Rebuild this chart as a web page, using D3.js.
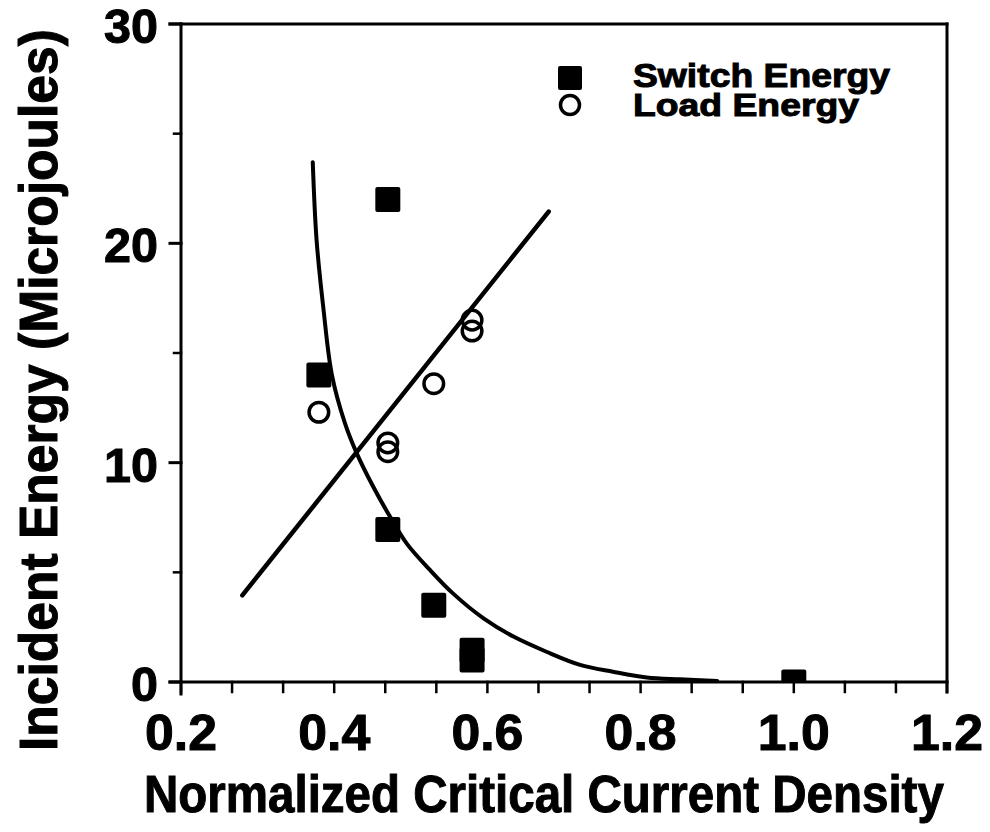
<!DOCTYPE html>
<html>
<head>
<meta charset="utf-8">
<script src="https://cdn.jsdelivr.net/npm/d3@7"></script>
<style>
  html, body { margin: 0; padding: 0; background: #fff; }
  svg { display: block; }
  text { font-family: "Liberation Sans", Arial, Helvetica, sans-serif; font-weight: bold; fill: #000; stroke: #000; stroke-width: 1; }
</style>
</head>
<body>
<svg id="chart" width="990" height="832"></svg>
<script>
// ---- data ----
const switchX = [0.38, 0.47, 0.47, 0.53, 0.58, 0.58, 1.0];
const switchY = [14.0, 22.0, 6.95, 3.5, 1.45, 1.0, 0.0];

const loadX = [0.38, 0.47, 0.47, 0.53, 0.58, 0.58];
const loadY = [12.3, 10.9, 10.5, 13.6, 16.5, 16.0];

// linear fit line through load energy (end points)
const fitLoadX = [0.28, 0.68];
const fitLoadY = [3.95, 21.45];

// decaying fit curve through switch energy
const fitSwitchX = [0.372, 0.377, 0.386, 0.397, 0.414, 0.429, 0.451, 0.473, 0.495, 0.525, 0.555, 0.595, 0.634, 0.677, 0.721, 0.764, 0.808, 0.851, 0.90];
const fitSwitchY = [23.7, 20.15, 17.0, 14.0, 11.8, 10.46, 8.9, 7.53, 6.3, 5.11, 4.04, 2.9, 2.07, 1.38, 0.78, 0.47, 0.21, 0.12, 0.05];

const xTicks = [0.2, 0.4, 0.6, 0.8, 1.0, 1.2];
const xTickLabels = ["0.2", "0.4", "0.6", "0.8", "1.0", "1.2"];
const yTicks = [0, 10, 20, 30];
const yTickLabels = ["0", "10", "20", "30"];

const seriesNames = ["Switch Energy", "Load Energy"];
const xTitle = "Normalized Critical Current Density";
const yTitle = "Incident Energy (Microjoules)";

// ---- layout ----
const svg = d3.select("#chart");
const x = d3.scaleLinear().domain([0.2, 1.2]).range([181, 947]);
const y = d3.scaleLinear().domain([0, 30]).range([682, 24]);

svg.append("defs").append("clipPath").attr("id", "plotclip")
  .append("rect").attr("x", x(0.2)).attr("y", y(30)).attr("width", x(1.2) - x(0.2)).attr("height", y(0) - y(30));

// place a text whose width is fitted horizontally by a scale transform
function fitText(parent, str, px, py, size, width, anchor, rotate) {
  const g = parent.append("g");
  const t = g.append("text").attr("font-size", size).text(str);
  const w = t.node().getComputedTextLength();
  const sx = width / w;
  let dx = 0;
  if (anchor === "middle") dx = -width / 2;
  else if (anchor === "end") dx = -width;
  g.attr("transform", `translate(${px},${py})` + (rotate ? ` rotate(${rotate})` : "") + ` translate(${dx},0) scale(${sx},1)`);
  return g;
}

// minor ticks
const xMinor = d3.range(0, 16).map(i => 0.2 + i / 15);
const yMinor = [5, 15, 25];

const axisG = svg.append("g").attr("stroke", "#000").attr("stroke-linecap", "square");
// frame
axisG.append("line").attr("x1", x(0.2) - 11).attr("x2", x(1.2)).attr("y1", y(30)).attr("y2", y(30)).attr("stroke-width", 3);
axisG.append("line").attr("x1", x(0.2) - 11).attr("x2", x(1.2)).attr("y1", y(0)).attr("y2", y(0)).attr("stroke-width", 3);
axisG.append("line").attr("x1", x(0.2)).attr("x2", x(0.2)).attr("y1", y(30)).attr("y2", y(0) + 12).attr("stroke-width", 3);
axisG.append("line").attr("x1", x(1.2)).attr("x2", x(1.2)).attr("y1", y(30)).attr("y2", y(0) + 10).attr("stroke-width", 3);

// x ticks
axisG.selectAll(".xt").data(xMinor).enter().append("line")
  .attr("x1", d => x(d)).attr("x2", d => x(d))
  .attr("y1", y(0)).attr("y2", y(0) + 10).attr("stroke-width", 2.5);
// y ticks
axisG.selectAll(".ytmaj").data(yTicks).enter().append("line")
  .attr("x1", x(0.2) - 11).attr("x2", x(0.2))
  .attr("y1", d => y(d)).attr("y2", d => y(d)).attr("stroke-width", 3);
axisG.selectAll(".ytmin").data(yMinor).enter().append("line")
  .attr("x1", x(0.2) - 7).attr("x2", x(0.2))
  .attr("y1", d => y(d)).attr("y2", d => y(d)).attr("stroke-width", 2.5);

// tick labels
xTicks.forEach((d, i) => fitText(svg, xTickLabels[i], x(d), 750, 50, 72, "middle"));
yTicks.forEach((d, i) => fitText(svg, yTickLabels[i], 158, y(d) + 19, 48, yTickLabels[i].length * 27, "end"));

// axis titles
fitText(svg, xTitle, 544, 812, 52, 800, "middle");
fitText(svg, yTitle, 57, 390, 54, 722, "middle", -90);

// fit lines
const line = d3.line().x(d => x(d[0])).y(d => y(d[1]));
const plot = svg.append("g").attr("clip-path", "url(#plotclip)");
plot.append("path").datum(fitLoadX.map((v, i) => [v, fitLoadY[i]]))
  .attr("d", line).attr("fill", "none").attr("stroke", "#000").attr("stroke-width", 4.5).attr("stroke-linecap", "round");
plot.append("path").datum(fitSwitchX.map((v, i) => [v, fitSwitchY[i]]))
  .attr("d", line.curve(d3.curveCatmullRom)).attr("fill", "none").attr("stroke", "#000").attr("stroke-width", 4).attr("stroke-linecap", "round");

// markers
const sq = 25;
plot.selectAll(".sw").data(switchX.map((v, i) => [v, switchY[i]])).enter().append("rect")
  .attr("x", d => x(d[0]) - sq / 2).attr("y", d => y(d[1]) - sq / 2)
  .attr("width", sq).attr("height", sq).attr("rx", 2).attr("fill", "#000");
plot.selectAll(".ld").data(loadX.map((v, i) => [v, loadY[i]])).enter().append("circle")
  .attr("cx", d => x(d[0])).attr("cy", d => y(d[1])).attr("r", 9.8)
  .attr("fill", "none").attr("stroke", "#000").attr("stroke-width", 3.5);

// legend
const lg = svg.append("g");
lg.append("rect").attr("x", 558).attr("y", 66).attr("width", 24).attr("height", 24).attr("rx", 2).attr("fill", "#000");
lg.append("circle").attr("cx", 570).attr("cy", 105).attr("r", 9.5).attr("fill", "none").attr("stroke", "#000").attr("stroke-width", 3.5);
fitText(lg, seriesNames[0], 633, 87, 33, 257, "start");
fitText(lg, seriesNames[1], 633, 116, 32, 226, "start");
</script>
</body>
</html>
